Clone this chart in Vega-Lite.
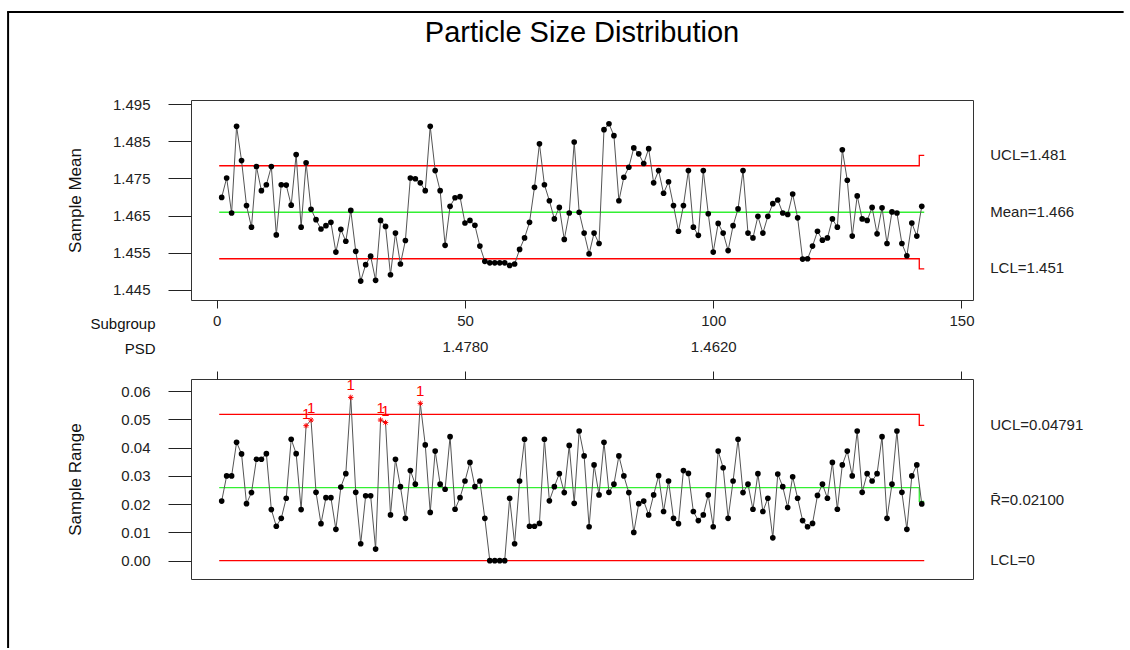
{
  "$schema": "https://vega.github.io/schema/vega-lite/v6.json",
  "background": "white",
  "padding": {"left": 5, "top": 10, "right": 4, "bottom": 0},
  "bounds": "flush",
  "spacing": 79,
  "config": {
    "view": {"stroke": "#333333", "strokeWidth": 1},
    "font": "Liberation Sans",
    "axis": {"grid": false, "domain": false, "tickColor": "#222222", "labelColor": "#222222", "titleColor": "#111111", "labelFont": "Liberation Sans", "titleFont": "Liberation Sans", "titleFontWeight": "normal", "labelFontSize": 15, "titleFontSize": 15, "labelOverlap": false}
  },
  "datasets": {
    "samples": [
      {"sg":1,"mean":1.4699,"range":0.0211,"test":0},{"sg":2,"mean":1.4751,"range":0.0300,"test":0},{"sg":3,"mean":1.4657,"range":0.0300,"test":0},{"sg":4,"mean":1.4890,"range":0.0419,"test":0},{"sg":5,"mean":1.4798,"range":0.0378,"test":0},
      {"sg":6,"mean":1.4677,"range":0.0202,"test":0},{"sg":7,"mean":1.4619,"range":0.0241,"test":0},{"sg":8,"mean":1.4782,"range":0.0359,"test":0},{"sg":9,"mean":1.4717,"range":0.0359,"test":0},{"sg":10,"mean":1.4733,"range":0.0379,"test":0},
      {"sg":11,"mean":1.4782,"range":0.0181,"test":0},{"sg":12,"mean":1.4598,"range":0.0122,"test":0},{"sg":13,"mean":1.4733,"range":0.0150,"test":0},{"sg":14,"mean":1.4732,"range":0.0221,"test":0},{"sg":15,"mean":1.4678,"range":0.0430,"test":0},
      {"sg":16,"mean":1.4814,"range":0.0379,"test":0},{"sg":17,"mean":1.4619,"range":0.0181,"test":0},{"sg":18,"mean":1.4792,"range":0.0478,"test":1},{"sg":19,"mean":1.4667,"range":0.0498,"test":1},{"sg":20,"mean":1.4639,"range":0.0242,"test":0},
      {"sg":21,"mean":1.4614,"range":0.0131,"test":0},{"sg":22,"mean":1.4623,"range":0.0223,"test":0},{"sg":23,"mean":1.4632,"range":0.0223,"test":0},{"sg":24,"mean":1.4552,"range":0.0111,"test":0},{"sg":25,"mean":1.4613,"range":0.0261,"test":0},
      {"sg":26,"mean":1.4581,"range":0.0308,"test":0},{"sg":27,"mean":1.4664,"range":0.0578,"test":1},{"sg":28,"mean":1.4554,"range":0.0242,"test":0},{"sg":29,"mean":1.4474,"range":0.0060,"test":0},{"sg":30,"mean":1.4518,"range":0.0230,"test":0},
      {"sg":31,"mean":1.4541,"range":0.0230,"test":0},{"sg":32,"mean":1.4476,"range":0.0041,"test":0},{"sg":33,"mean":1.4637,"range":0.0498,"test":1},{"sg":34,"mean":1.4621,"range":0.0489,"test":1},{"sg":35,"mean":1.4491,"range":0.0162,"test":0},
      {"sg":36,"mean":1.4603,"range":0.0359,"test":0},{"sg":37,"mean":1.4520,"range":0.0262,"test":0},{"sg":38,"mean":1.4583,"range":0.0150,"test":0},{"sg":39,"mean":1.4751,"range":0.0319,"test":0},{"sg":40,"mean":1.4749,"range":0.0271,"test":0},
      {"sg":41,"mean":1.4738,"range":0.0557,"test":1},{"sg":42,"mean":1.4717,"range":0.0410,"test":0},{"sg":43,"mean":1.4890,"range":0.0171,"test":0},{"sg":44,"mean":1.4771,"range":0.0388,"test":0},{"sg":45,"mean":1.4717,"range":0.0271,"test":0},
      {"sg":46,"mean":1.4570,"range":0.0253,"test":0},{"sg":47,"mean":1.4675,"range":0.0439,"test":0},{"sg":48,"mean":1.4698,"range":0.0182,"test":0},{"sg":49,"mean":1.4701,"range":0.0223,"test":0},{"sg":50,"mean":1.4630,"range":0.0282,"test":0},
      {"sg":51,"mean":1.4637,"range":0.0348,"test":0},{"sg":52,"mean":1.4624,"range":0.0262,"test":0},{"sg":53,"mean":1.4568,"range":0.0282,"test":0},{"sg":54,"mean":1.4527,"range":0.0150,"test":0},{"sg":55,"mean":1.4523,"range":0.0000,"test":0},
      {"sg":56,"mean":1.4523,"range":0.0000,"test":0},{"sg":57,"mean":1.4523,"range":0.0000,"test":0},{"sg":58,"mean":1.4523,"range":0.0000,"test":0},{"sg":59,"mean":1.4516,"range":0.0221,"test":0},{"sg":60,"mean":1.4520,"range":0.0060,"test":0},
      {"sg":61,"mean":1.4559,"range":0.0282,"test":0},{"sg":62,"mean":1.4590,"range":0.0430,"test":0},{"sg":63,"mean":1.4632,"range":0.0122,"test":0},{"sg":64,"mean":1.4726,"range":0.0122,"test":0},{"sg":65,"mean":1.4843,"range":0.0132,"test":0},
      {"sg":66,"mean":1.4733,"range":0.0430,"test":0},{"sg":67,"mean":1.4690,"range":0.0212,"test":0},{"sg":68,"mean":1.4641,"range":0.0262,"test":0},{"sg":69,"mean":1.4672,"range":0.0308,"test":0},{"sg":70,"mean":1.4586,"range":0.0241,"test":0},
      {"sg":71,"mean":1.4657,"range":0.0408,"test":0},{"sg":72,"mean":1.4848,"range":0.0203,"test":0},{"sg":73,"mean":1.4659,"range":0.0459,"test":0},{"sg":74,"mean":1.4603,"range":0.0371,"test":0},{"sg":75,"mean":1.4547,"range":0.0120,"test":0},
      {"sg":76,"mean":1.4603,"range":0.0339,"test":0},{"sg":77,"mean":1.4575,"range":0.0233,"test":0},{"sg":78,"mean":1.4881,"range":0.0419,"test":0},{"sg":79,"mean":1.4897,"range":0.0242,"test":0},{"sg":80,"mean":1.4865,"range":0.0271,"test":0},
      {"sg":81,"mean":1.4690,"range":0.0371,"test":0},{"sg":82,"mean":1.4753,"range":0.0300,"test":0},{"sg":83,"mean":1.4780,"range":0.0241,"test":0},{"sg":84,"mean":1.4832,"range":0.0100,"test":0},{"sg":85,"mean":1.4816,"range":0.0202,"test":0},
      {"sg":86,"mean":1.4790,"range":0.0211,"test":0},{"sg":87,"mean":1.4830,"range":0.0162,"test":0},{"sg":88,"mean":1.4738,"range":0.0233,"test":0},{"sg":89,"mean":1.4771,"range":0.0301,"test":0},{"sg":90,"mean":1.4710,"range":0.0174,"test":0},
      {"sg":91,"mean":1.4741,"range":0.0282,"test":0},{"sg":92,"mean":1.4677,"range":0.0150,"test":0},{"sg":93,"mean":1.4608,"range":0.0131,"test":0},{"sg":94,"mean":1.4677,"range":0.0319,"test":0},{"sg":95,"mean":1.4771,"range":0.0309,"test":0},
      {"sg":96,"mean":1.4619,"range":0.0174,"test":0},{"sg":97,"mean":1.4597,"range":0.0142,"test":0},{"sg":98,"mean":1.4771,"range":0.0162,"test":0},{"sg":99,"mean":1.4655,"range":0.0233,"test":0},{"sg":100,"mean":1.4552,"range":0.0120,"test":0},
      {"sg":101,"mean":1.4629,"range":0.0388,"test":0},{"sg":102,"mean":1.4603,"range":0.0329,"test":0},{"sg":103,"mean":1.4556,"range":0.0150,"test":0},{"sg":104,"mean":1.4623,"range":0.0282,"test":0},{"sg":105,"mean":1.4668,"range":0.0430,"test":0},
      {"sg":106,"mean":1.4771,"range":0.0241,"test":0},{"sg":107,"mean":1.4603,"range":0.0271,"test":0},{"sg":108,"mean":1.4590,"range":0.0182,"test":0},{"sg":109,"mean":1.4648,"range":0.0308,"test":0},{"sg":110,"mean":1.4603,"range":0.0174,"test":0},
      {"sg":111,"mean":1.4648,"range":0.0221,"test":0},{"sg":112,"mean":1.4682,"range":0.0081,"test":0},{"sg":113,"mean":1.4692,"range":0.0307,"test":0},{"sg":114,"mean":1.4657,"range":0.0262,"test":0},{"sg":115,"mean":1.4653,"range":0.0188,"test":0},
      {"sg":116,"mean":1.4708,"range":0.0297,"test":0},{"sg":117,"mean":1.4644,"range":0.0221,"test":0},{"sg":118,"mean":1.4533,"range":0.0142,"test":0},{"sg":119,"mean":1.4534,"range":0.0120,"test":0},{"sg":120,"mean":1.4568,"range":0.0132,"test":0},
      {"sg":121,"mean":1.4608,"range":0.0231,"test":0},{"sg":122,"mean":1.4584,"range":0.0271,"test":0},{"sg":123,"mean":1.4590,"range":0.0221,"test":0},{"sg":124,"mean":1.4641,"range":0.0348,"test":0},{"sg":125,"mean":1.4619,"range":0.0182,"test":0},
      {"sg":126,"mean":1.4827,"range":0.0339,"test":0},{"sg":127,"mean":1.4745,"range":0.0388,"test":0},{"sg":128,"mean":1.4595,"range":0.0300,"test":0},{"sg":129,"mean":1.4703,"range":0.0459,"test":0},{"sg":130,"mean":1.4641,"range":0.0242,"test":0},
      {"sg":131,"mean":1.4637,"range":0.0308,"test":0},{"sg":132,"mean":1.4672,"range":0.0282,"test":0},{"sg":133,"mean":1.4601,"range":0.0308,"test":0},{"sg":134,"mean":1.4671,"range":0.0439,"test":0},{"sg":135,"mean":1.4575,"range":0.0150,"test":0},
      {"sg":136,"mean":1.4660,"range":0.0271,"test":0},{"sg":137,"mean":1.4657,"range":0.0459,"test":0},{"sg":138,"mean":1.4575,"range":0.0242,"test":0},{"sg":139,"mean":1.4542,"range":0.0111,"test":0},{"sg":140,"mean":1.4630,"range":0.0300,"test":0},
      {"sg":141,"mean":1.4595,"range":0.0339,"test":0},{"sg":142,"mean":1.4675,"range":0.0201,"test":0}
    ],
    "meanLim": [
      {"lim":"UCL","k":1,"sg":0.5,"v":1.4784},{"lim":"UCL","k":2,"sg":141.5,"v":1.4784},{"lim":"UCL","k":3,"sg":141.5,"v":1.4812},{"lim":"UCL","k":4,"sg":142.5,"v":1.4812},
      {"lim":"Mean","k":1,"sg":0.5,"v":1.4659},{"lim":"Mean","k":2,"sg":142.5,"v":1.4659},
      {"lim":"LCL","k":1,"sg":0.5,"v":1.4534},{"lim":"LCL","k":2,"sg":141.5,"v":1.4534},{"lim":"LCL","k":3,"sg":141.5,"v":1.4507},{"lim":"LCL","k":4,"sg":142.5,"v":1.4507}
    ],
    "rangeLim": [
      {"lim":"UCL","k":1,"sg":0.5,"v":0.05179},{"lim":"UCL","k":2,"sg":141.5,"v":0.05179},{"lim":"UCL","k":3,"sg":141.5,"v":0.04791},{"lim":"UCL","k":4,"sg":142.5,"v":0.04791},
      {"lim":"Mean","k":1,"sg":0.5,"v":0.02584},{"lim":"Mean","k":2,"sg":141.5,"v":0.02584},{"lim":"Mean","k":3,"sg":141.5,"v":0.021},{"lim":"Mean","k":4,"sg":142.5,"v":0.021},
      {"lim":"LCL","k":1,"sg":0.5,"v":0},{"lim":"LCL","k":2,"sg":142.5,"v":0}
    ],
    "meanLab": [
      {"t":"UCL=1.481","v":1.4812},{"t":"Mean=1.466","v":1.4660},{"t":"LCL=1.451","v":1.4508}
    ],
    "rangeLab": [
      {"t":"UCL=0.04791","v":0.0480},{"t":"R\u0304=0.02100","v":0.0214},{"t":"LCL=0","v":0.0002}
    ]
  },
  "vconcat": [
    {
      "width": 782,
      "height": 200,
      "title": {"text": "Particle Size Distribution", "fontSize": 29, "fontWeight": "normal", "font": "Liberation Sans", "color": "#000000", "offset": 49, "anchor": "middle"},
      "layer": [
        {
          "data": {"name": "meanLim"},
          "mark": {"type": "line", "strokeWidth": 1.3},
          "encoding": {
            "x": {"field": "sg", "type": "quantitative", "scale": {"domain": [-5.18, 152.32], "nice": false, "zero": false},
              "axis": {"orient": "bottom", "values": [0, 50, 100, 150], "tickSize": 8, "labelPadding": 5, "labelFontSize": 15, "labelFlush": false, "labelOverlap": false, "title": "Subgroup", "titleAngle": 0, "titleX": -36, "titleY": 23, "titleAlign": "right", "titleBaseline": "middle", "titleFontSize": 15}},
            "y": {"field": "v", "type": "quantitative", "scale": {"domain": [1.44231, 1.49608], "nice": false, "zero": false},
              "axis": {"values": [1.445, 1.455, 1.465, 1.475, 1.485, 1.495], "format": ".3f", "tickSize": 23, "labelPadding": 18, "labelFontSize": 15, "labelOverlap": false, "labelFlush": false, "title": "Sample Mean", "titleFontSize": 17, "titleAngle": -90, "titleX": -116, "titleY": 100, "titleAlign": "center", "titleBaseline": "middle"}},
            "color": {"field": "lim", "type": "nominal", "scale": {"domain": ["UCL", "Mean", "LCL"], "range": ["#ff0000", "#33f033", "#ff0000"]}, "legend": null},
            "order": {"field": "k", "type": "quantitative"}
          }
        },
        {
          "data": {"name": "samples"},
          "mark": {"type": "line", "color": "#555555", "strokeWidth": 1},
          "encoding": {
            "x": {"field": "sg", "type": "quantitative", "axis": {"orient": "bottom", "values": [0, 50, 100, 150], "title": "Subgroup"}},
            "y": {"field": "mean", "type": "quantitative", "axis": {"values": [1.445, 1.455, 1.465, 1.475, 1.485, 1.495], "format": ".3f", "title": "Sample Mean"}}
          }
        },
        {
          "data": {"name": "samples"},
          "mark": {"type": "circle", "color": "#000000", "size": 32, "opacity": 1},
          "encoding": {
            "x": {"field": "sg", "type": "quantitative", "axis": {"orient": "bottom", "values": [0, 50, 100, 150], "title": "Subgroup"}},
            "y": {"field": "mean", "type": "quantitative", "axis": {"values": [1.445, 1.455, 1.465, 1.475, 1.485, 1.495], "format": ".3f", "title": "Sample Mean"}}
          }
        },
        {
          "data": {"name": "meanLab"},
          "mark": {"type": "text", "align": "left", "baseline": "middle", "fontSize": 15, "color": "#222222"},
          "encoding": {
            "x": {"datum": 155.8, "type": "quantitative", "axis": {"orient": "bottom", "values": [0, 50, 100, 150], "title": "Subgroup"}},
            "y": {"field": "v", "type": "quantitative", "axis": {"values": [1.445, 1.455, 1.465, 1.475, 1.485, 1.495], "format": ".3f", "title": "Sample Mean"}},
            "text": {"field": "t"}
          }
        }
      ]
    },
    {
      "width": 782,
      "height": 200,
      "layer": [
        {
          "data": {"name": "rangeLim"},
          "mark": {"type": "line", "strokeWidth": 1.3},
          "encoding": {
            "x": {"field": "sg", "type": "quantitative", "scale": {"domain": [-5.18, 152.32], "nice": false, "zero": false},
              "axis": {"orient": "top", "values": [0, 50, 100, 150], "tickSize": 8, "labelPadding": 17, "labelFontSize": 15, "labelFlush": false, "labelOverlap": false, "labelExpr": "datum.value == 50 ? '1.4780' : datum.value == 100 ? '1.4620' : ''", "title": "PSD", "titleAngle": 0, "titleX": -36, "titleY": -31, "titleAlign": "right", "titleBaseline": "middle", "titleFontSize": 15}},
            "y": {"field": "v", "type": "quantitative", "scale": {"domain": [-0.00648, 0.06432], "nice": false, "zero": false},
              "axis": {"values": [0, 0.01, 0.02, 0.03, 0.04, 0.05, 0.06], "format": ".2f", "tickSize": 23, "labelPadding": 18, "labelFontSize": 15, "labelOverlap": false, "labelFlush": false, "title": "Sample Range", "titleFontSize": 17, "titleAngle": -90, "titleX": -116, "titleY": 100, "titleAlign": "center", "titleBaseline": "middle"}},
            "color": {"field": "lim", "type": "nominal", "scale": {"domain": ["UCL", "Mean", "LCL"], "range": ["#ff0000", "#33f033", "#ff0000"]}, "legend": null},
            "order": {"field": "k", "type": "quantitative"}
          }
        },
        {
          "data": {"values": [{"part": "frame"}]},
          "mark": {"type": "rule", "color": "#000000", "strokeWidth": 2},
          "encoding": {
            "x": {"datum": -42.02, "type": "quantitative", "axis": {"orient": "top", "values": [0, 50, 100, 150], "title": "PSD"}},
            "y": {"datum": 0.19424, "type": "quantitative", "axis": {"values": [0, 0.01, 0.02, 0.03, 0.04, 0.05, 0.06], "format": ".2f", "title": "Sample Range"}},
            "y2": {"datum": -0.03091}
          }
        },
        {
          "data": {"values": [{"part": "frame"}]},
          "mark": {"type": "rule", "color": "#000000", "strokeWidth": 2},
          "encoding": {
            "x": {"datum": -42.22, "type": "quantitative", "axis": {"orient": "top", "values": [0, 50, 100, 150], "title": "PSD"}},
            "x2": {"datum": 182.66},
            "y": {"datum": 0.19424, "type": "quantitative", "axis": {"values": [0, 0.01, 0.02, 0.03, 0.04, 0.05, 0.06], "format": ".2f", "title": "Sample Range"}}
          }
        },
        {
          "data": {"name": "samples"},
          "mark": {"type": "line", "color": "#555555", "strokeWidth": 1},
          "encoding": {
            "x": {"field": "sg", "type": "quantitative", "axis": {"orient": "top", "values": [0, 50, 100, 150], "title": "PSD"}},
            "y": {"field": "range", "type": "quantitative", "axis": {"values": [0, 0.01, 0.02, 0.03, 0.04, 0.05, 0.06], "format": ".2f", "title": "Sample Range"}}
          }
        },
        {
          "data": {"name": "samples"},
          "transform": [{"filter": "datum.test == 0"}],
          "mark": {"type": "circle", "color": "#000000", "size": 32, "opacity": 1},
          "encoding": {
            "x": {"field": "sg", "type": "quantitative", "axis": {"orient": "top", "values": [0, 50, 100, 150], "title": "PSD"}},
            "y": {"field": "range", "type": "quantitative", "axis": {"values": [0, 0.01, 0.02, 0.03, 0.04, 0.05, 0.06], "format": ".2f", "title": "Sample Range"}}
          }
        },
        {
          "data": {"name": "samples"},
          "transform": [{"filter": "datum.test == 1"}],
          "mark": {"type": "point", "shape": "M-1,0L1,0M0,-1L0,1M-0.7,-0.7L0.7,0.7M-0.7,0.7L0.7,-0.7", "filled": false, "color": "#ff0000", "strokeWidth": 1, "size": 30, "opacity": 1},
          "encoding": {
            "x": {"field": "sg", "type": "quantitative", "axis": {"orient": "top", "values": [0, 50, 100, 150], "title": "PSD"}},
            "y": {"field": "range", "type": "quantitative", "axis": {"values": [0, 0.01, 0.02, 0.03, 0.04, 0.05, 0.06], "format": ".2f", "title": "Sample Range"}}
          }
        },
        {
          "data": {"name": "samples"},
          "transform": [{"filter": "datum.test == 1"}],
          "mark": {"type": "text", "color": "#ff0000", "fontSize": 15, "dy": -12, "align": "center", "baseline": "middle"},
          "encoding": {
            "x": {"field": "sg", "type": "quantitative", "axis": {"orient": "top", "values": [0, 50, 100, 150], "title": "PSD"}},
            "y": {"field": "range", "type": "quantitative", "axis": {"values": [0, 0.01, 0.02, 0.03, 0.04, 0.05, 0.06], "format": ".2f", "title": "Sample Range"}},
            "text": {"field": "test", "type": "nominal"}
          }
        },
        {
          "data": {"name": "rangeLab"},
          "mark": {"type": "text", "align": "left", "baseline": "middle", "fontSize": 15, "color": "#222222"},
          "encoding": {
            "x": {"datum": 155.8, "type": "quantitative", "axis": {"orient": "top", "values": [0, 50, 100, 150], "title": "PSD"}},
            "y": {"field": "v", "type": "quantitative", "axis": {"values": [0, 0.01, 0.02, 0.03, 0.04, 0.05, 0.06], "format": ".2f", "title": "Sample Range"}},
            "text": {"field": "t"}
          }
        }
      ]
    }
  ]
}
